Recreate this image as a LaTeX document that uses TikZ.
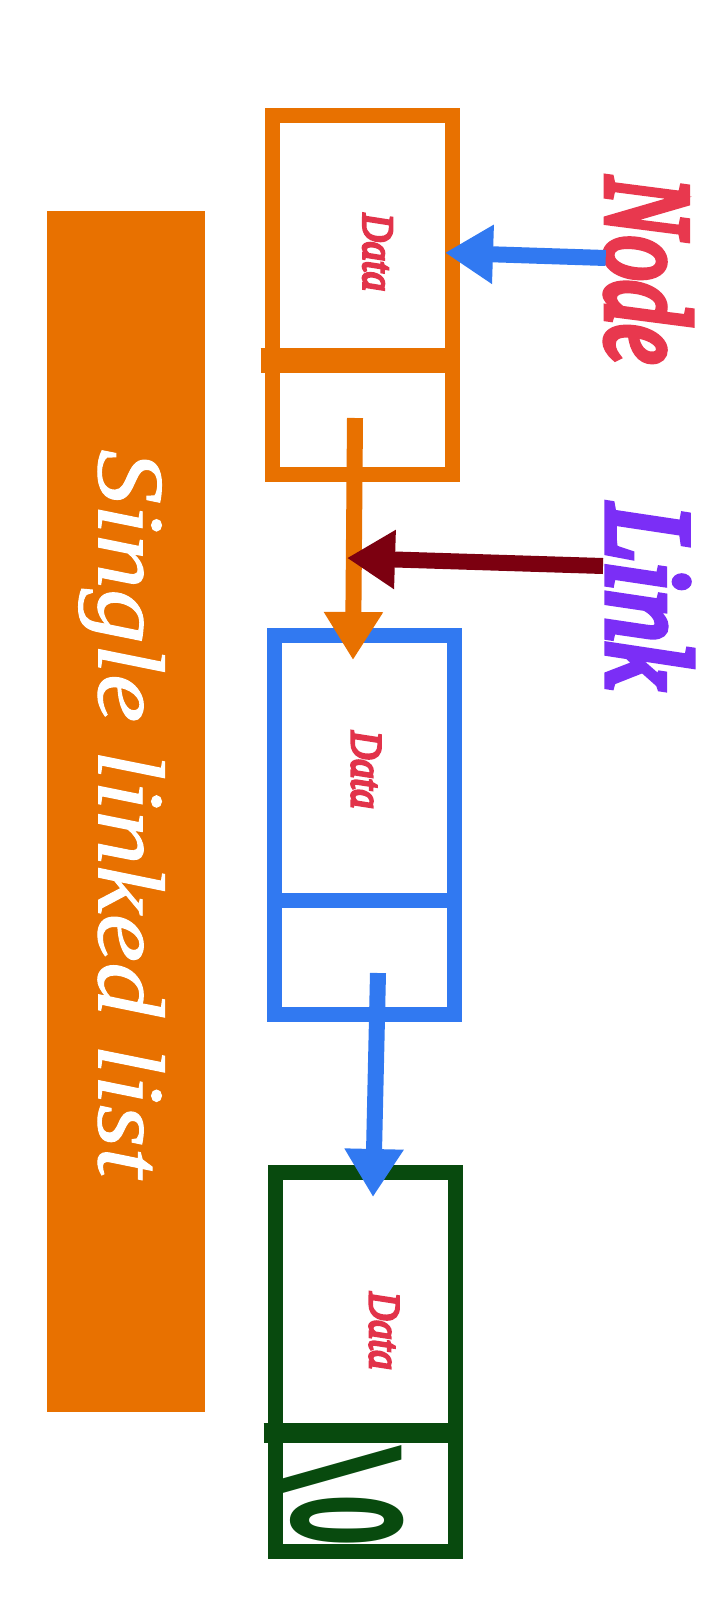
\documentclass[tikz,border=0pt]{standalone}
\usepackage{fontspec}
\usetikzlibrary{arrows.meta}
\newfontfamily\zerofont{DejaVu Sans}
\newfontfamily\tagfont[FakeBold=6]{Liberation Serif}
\newfontfamily\titlefont[FakeBold=1]{Liberation Serif}
\definecolor{listorange}{HTML}{E87100}
\definecolor{listblue}{HTML}{3179F1}
\definecolor{listgreen}{HTML}{084A0E}
\definecolor{linkred}{HTML}{7C0010}
\definecolor{nodered}{HTML}{E8384E}
\definecolor{linkpurple}{HTML}{7B2EF6}
\definecolor{datared}{HTML}{E2334A}
\begin{document}
\begin{tikzpicture}[x=1pt, y=-1pt, >={Triangle[length=48pt,width=56pt]},
    cell/.style={draw=#1, line width=15pt, inner sep=0pt, outer sep=0pt, minimum width=180pt},
    data/.style={text=datared, font=\tagfont\fontsize{44}{44}\selectfont\itshape, inner sep=0pt, rotate=-90, xscale=.88},
    tag/.style={font=\tagfont\fontsize{121}{121}\selectfont\itshape, inner sep=0pt, rotate=-90},
    pointer/.style={->, line width=16pt, draw=#1}]
\useasboundingbox (0,0) rectangle (720,1600);
\fill[white] (0,0) rectangle (720,1600);

\node[fill=listorange, minimum width=158pt, minimum height=1201pt, inner sep=0pt] (bar) at (126,811.5) {};
\node[text=white, font=\titlefont\fontsize{95}{95}\selectfont\itshape, rotate=-90, xscale=1.15, inner sep=0pt] (title) at (121.5,813.5) {Single linked list};

\node[cell=listorange, minimum height=244.5pt] (n1d) at (362.5,237.75) {};
\node[cell=listorange, minimum height=114.5pt] (n1l) at (362.5,417.25) {};
\node[cell=listblue, minimum height=264.5pt] (n2d) at (364,767.75) {};
\node[cell=listblue, minimum height=114.5pt] (n2l) at (364,957.25) {};
\node[cell=listgreen, minimum height=260.5pt] (n3d) at (365.5,1302.75) {};
\node[cell=listgreen, minimum height=118.5pt] (n3l) at (365.5,1492.25) {};
\draw[listorange, line width=25pt] ([xshift=-12pt]n1l.north west) -- (n1l.north east);
\draw[listgreen, line width=20pt] ([xshift=-12pt]n3l.north west) -- (n3l.north east);

\node[data] (d1) at (377.5,252.5) {Data};
\node[data] (d2) at (366,770) {Data};
\node[data] (d3) at (384,1331) {Data};
\node[text=listgreen, font=\zerofont\fontsize{150}{150}\selectfont\bfseries, rotate=-90, xscale=.5, inner sep=0pt] (nul) at (341,1496) {\scalebox{1.8}[1]{\textbackslash}\kern1pt0};

\node[tag, text=nodered, xscale=.73] (nd) at (648.5,270.5) {Node};
\node[tag, text=linkpurple, xscale=.85] (lk) at (650,596) {Link};

\coordinate (o1) at (355,418);
\coordinate (o2) at (353,660);
\coordinate (b1) at (378,973);
\coordinate (b2) at (373,1197);
\coordinate (lt) at (603,566);
\coordinate (lh) at (347,558);
\draw[pointer=listorange] (o1) -- (o2);
\draw[pointer=listblue] (b1) -- (b2);
\draw[pointer=listblue] ([yshift=12.5pt]nd.south) -- ([xshift=-7.5pt,yshift=-15pt]n1d.east);
\draw[pointer=linkred] (lt) -- (lh);
\end{tikzpicture}
\end{document}
